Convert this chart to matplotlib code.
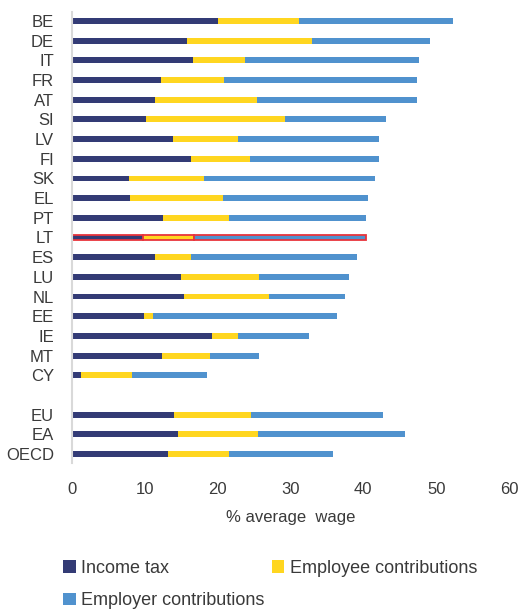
import matplotlib
matplotlib.use("Agg")
import matplotlib.pyplot as plt
import numpy as np

plt.rcParams['font.family'] = ['Liberation Sans', 'DejaVu Sans']

categories = ["BE", "DE", "IT", "FR", "AT", "SI", "LV", "FI", "SK", "EL", "PT", "LT",
              "ES", "LU", "NL", "EE", "IE", "MT", "CY", "", "EU", "EA", "OECD"]
income_tax = [20.1, 15.8, 16.6, 12.2, 11.4, 10.2, 13.8, 16.4, 7.8, 8.0, 12.5, 9.8,
              11.4, 14.9, 15.4, 9.9, 19.2, 12.3, 1.3, 0, 14.0, 14.6, 13.2]
employee = [11.0, 17.2, 7.1, 8.7, 14.0, 19.1, 9.0, 8.0, 10.3, 12.7, 9.0, 6.9,
            4.9, 10.8, 11.7, 1.2, 3.6, 6.7, 6.9, 0, 10.6, 11.0, 8.3]
employer = [21.2, 16.2, 24.0, 26.4, 21.9, 13.8, 19.4, 17.8, 23.5, 19.9, 18.9, 23.6,
            22.8, 12.3, 10.4, 25.3, 9.7, 6.7, 10.3, 0, 18.1, 20.1, 14.3]
series_names = ["Income tax", "Employee contributions", "Employer contributions"]
colors = ["#333B75", "#FFD620", "#5092CE"]
highlight = "LT"

fig = plt.figure(figsize=(5.2, 6.1), dpi=100)
ax = fig.add_axes([72/520, 1 - 463/610, (509 - 72)/520, (463 - 12)/610])

y = np.arange(len(categories))
h = 0.3
left = np.zeros(len(categories))
handles = []
for vals, col, name in zip([income_tax, employee, employer], colors, series_names):
    vals = np.array(vals)
    edge = ['#E8343B' if c == highlight else 'none' for c in categories]
    lw = [1.3 if c == highlight else 0 for c in categories]
    bars = ax.barh(y, vals, left=left, height=h, color=col, edgecolor=edge, linewidth=lw, label=name)
    handles.append(bars)
    left = left + vals

fs = 12
tc = '#3A3A3A'
ax.set_ylim(22.46, -0.46)
ax.set_xlim(0, 60)
ax.set_yticks(y)
ax.set_yticklabels(categories, fontsize=fs, color=tc)
ax.set_xticks(np.arange(0, 61, 10))
ax.tick_params(axis='x', labelsize=fs, colors=tc, length=0, pad=14)
ax.tick_params(axis='y', length=0, pad=13)
for s in ['top', 'right', 'bottom']:
    ax.spines[s].set_visible(False)
ax.spines['left'].set_color('#D9D9D9')
ax.spines['left'].set_linewidth(1.5)
ax.set_xlabel("% average  wage", fontsize=fs, color=tc, labelpad=9)

order = [0, 2, 1]
fig.legend(handles=[handles[i] for i in order], labels=[series_names[i] for i in order],
           loc='upper left', bbox_to_anchor=(63/520, 1 - 560/610), ncol=2, frameon=False,
           fontsize=13, handlelength=0.7, handleheight=0.7, handletextpad=0.3,
           columnspacing=0.4, labelspacing=0.85, borderaxespad=0, borderpad=0,
           labelcolor=tc)

fig.savefig("out.png", dpi=100)
